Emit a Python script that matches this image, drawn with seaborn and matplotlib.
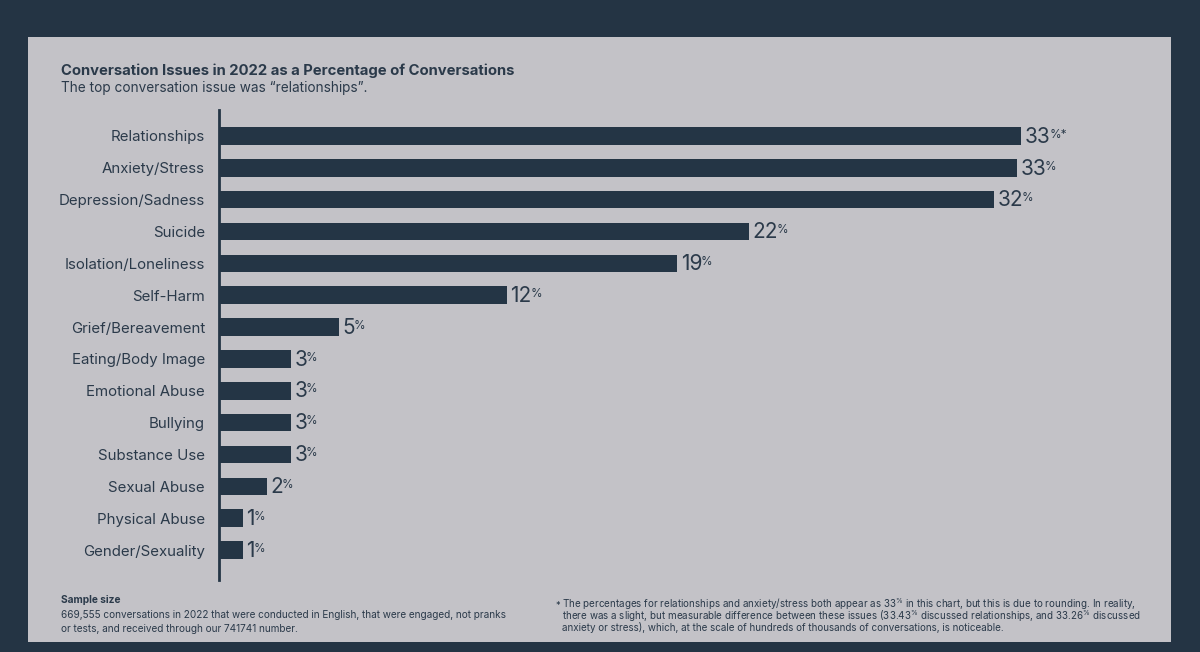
import matplotlib
matplotlib.use("Agg")
import matplotlib.pyplot as plt
import seaborn as sns
import pandas as pd
from matplotlib.patches import Rectangle

categories = ["Relationships", "Anxiety/Stress", "Depression/Sadness", "Suicide",
              "Isolation/Loneliness", "Self-Harm", "Grief/Bereavement",
              "Eating/Body Image", "Emotional Abuse", "Bullying", "Substance Use",
              "Sexual Abuse", "Physical Abuse", "Gender/Sexuality"]
values = [33.43, 33.26, 32.3, 22.1, 19.1, 12.0, 5.0, 3.0, 3.0, 3.0, 3.0, 2.0, 1.0, 1.0]
marks = ["%*", "%", "%", "%", "%", "%", "%", "%", "%", "%", "%", "%", "%", "%"]

title = "Conversation Issues in 2022 as a Percentage of Conversations"
subtitle = "The top conversation issue was \u201crelationships\u201d."
sample_head = "Sample size"
sample_lines = ["669,555 conversations in 2022 that were conducted in English, that were engaged, not pranks",
                "or tests, and received through our 741741 number."]
foot_lines = [
    "The percentages for relationships and anxiety/stress both appear as 33$^{\\%}$ in this chart, but this is due to rounding. In reality,",
    "there was a slight, but measurable difference between these issues (33.43$^{\\%}$ discussed relationships, and 33.26$^{\\%}$ discussed",
    "anxiety or stress), which, at the scale of hundreds of thousands of conversations, is noticeable.",
]

OUTER = "#243444"
PANEL = "#c3c2c7"
BAR = "#243545"
TEXT = "#2b3a4a"

sns.set_theme(style="white")
plt.rcParams["font.family"] = ["Inter", "DejaVu Sans"]
plt.rcParams["mathtext.default"] = "regular"

W, H = 1200, 652
fig = plt.figure(figsize=(W / 100, H / 100), dpi=100, facecolor=OUTER)
fig.patches.append(Rectangle((28 / W, 1 - 642 / H), (1171 - 28) / W, (642 - 37) / H,
                             transform=fig.transFigure, facecolor=PANEL, edgecolor="none", zorder=-10))

ax_left, ax_right = 219 / W, 1171 / W
ax_top, ax_bot = 1 - 110 / H, 1 - 580 / H
ax = fig.add_axes([ax_left, ax_bot, ax_right - ax_left, ax_top - ax_bot])
ax.set_zorder(5)
ax.set_facecolor("none")

df = pd.DataFrame({"issue": categories, "pct": values})
sns.barplot(data=df, x="pct", y="issue", orient="h", color=BAR, width=0.55,
            saturation=1, linewidth=0, ax=ax)

px_per_unit = 24.0
ax.set_xlim(0, (1171 - 219) / px_per_unit)
ax.set_ylim(13 + 0.94, -0.816)

for s in ["top", "right", "bottom"]:
    ax.spines[s].set_visible(False)
ax.spines["left"].set_color(BAR)
ax.spines["left"].set_linewidth(2)
ax.set_xticks([])
ax.set_xlabel("")
ax.set_ylabel("")
ax.tick_params(axis="y", length=0, pad=10, labelsize=10.8, labelcolor=TEXT)

for i, (v, m) in enumerate(zip(values, marks)):
    t = ax.annotate(f"{v:.0f}", xy=(v, i), xytext=(2.5, -0.5), textcoords="offset points",
                    ha="left", va="center", fontsize=15, color=TEXT)
    ax.annotate(m, xy=(1.0, 0.9), xycoords=t, xytext=(-1, 0), textcoords="offset points",
                ha="left", va="top", fontsize=8.5, color=TEXT)

fig.text(61 / W, 1 - 75 / H, title, fontsize=10.7, fontweight="bold", color=TEXT, va="baseline")
fig.text(61 / W, 1 - 92 / H, subtitle, fontsize=9.8, color=TEXT, va="baseline")

fig.text(61 / W, 1 - 603 / H, sample_head, fontsize=7.3, fontweight="bold", color=TEXT, va="baseline")
for k, line in enumerate(sample_lines):
    fig.text(61 / W, 1 - (618 + 14 * k) / H, line, fontsize=7.2, color=TEXT, va="baseline")

fig.text(555 / W, 1 - 608 / H, "*", fontsize=6.5, color=TEXT, va="baseline")
for k, line in enumerate(foot_lines):
    fig.text(562 / W, 1 - (608 + 11.5 * k) / H, line, fontsize=7.1, color=TEXT, va="baseline")

fig.savefig("out.png", dpi=100, facecolor=OUTER)
